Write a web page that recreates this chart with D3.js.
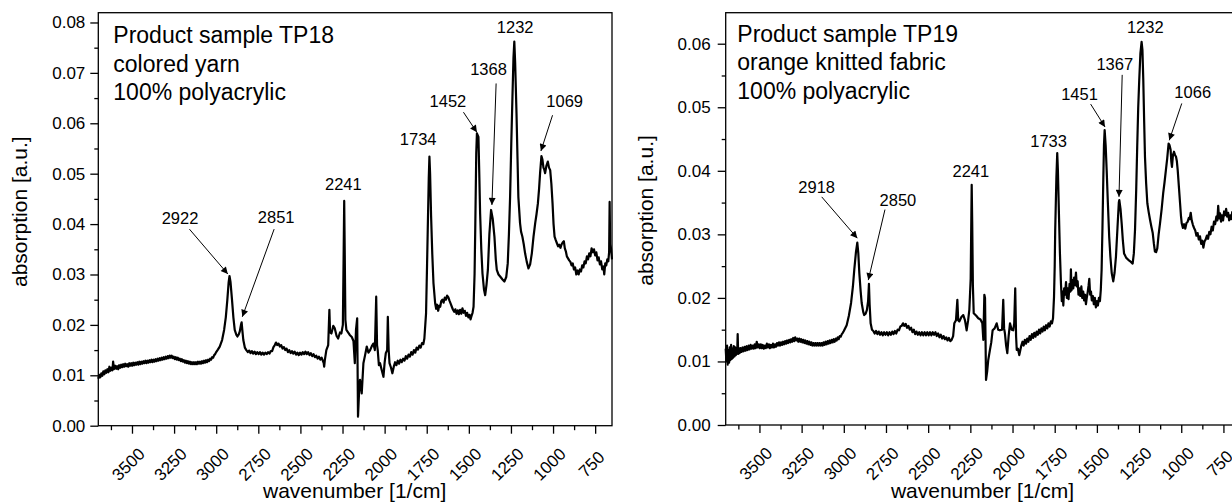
<!DOCTYPE html>
<html><head><meta charset="utf-8">
<script src="https://cdn.jsdelivr.net/npm/d3@7"></script>
<style>html,body{margin:0;padding:0;background:#fff;overflow:hidden;} svg{display:block;}</style>
</head><body><svg id="c" width="1232" height="503"></svg>
<script>
// ---------- DATA ----------
const xTickValues = [3500,3250,3000,2750,2500,2250,2000,1750,1500,1250,1000,750];
const xMinorTickValues = [3625,3375,3125,2875,2625,2375,2125,1875,1625,1375,1125,875];
const tp18YTicks = [0,0.01,0.02,0.03,0.04,0.05,0.06,0.07,0.08];
const tp19YTicks = [0,0.01,0.02,0.03,0.04,0.05,0.06];
const tp18Title = ["Product sample TP18","colored yarn","100% polyacrylic"];
const tp19Title = ["Product sample TP19","orange knitted fabric","100% polyacrylic"];
const xAxisTitle = "wavenumber [1/cm]";
const yAxisTitle = "absorption [a.u.]";
const tp18PeakLabels = ["2922","2851","2241","1734","1452","1368","1232","1069"];
const tp19PeakLabels = ["2918","2850","2241","1733","1451","1367","1232","1066"];

// [wavenumber, absorption]
const tp18Spectrum = [[3700,0.0093],[3694,0.0101],[3688,0.0096],[3682,0.0104],[3676,0.0099],[3670,0.0108],[3664,0.0102],[3658,0.0110],[3652,0.0105],[3646,0.0112],[3640,0.0106],[3634,0.0117],[3628,0.0109],[3622,0.0115],[3616,0.0110],[3612,0.0127],[3607,0.0112],[3600,0.0119],[3594,0.0113],[3588,0.0118],[3582,0.0112],[3576,0.0120],[3570,0.0115],[3564,0.0121],[3558,0.0116],[3552,0.0122],[3546,0.0117],[3540,0.0123],[3534,0.0118],[3528,0.0122],[3522,0.0117],[3516,0.0124],[3510,0.0119],[3504,0.0124],[3498,0.0119],[3492,0.0125],[3486,0.0120],[3480,0.0125],[3474,0.0121],[3468,0.0126],[3462,0.0121],[3456,0.0127],[3450,0.0122],[3444,0.0127],[3438,0.0123],[3432,0.0128],[3426,0.0124],[3420,0.0129],[3414,0.0124],[3408,0.0129],[3402,0.0125],[3396,0.0130],[3390,0.0126],[3384,0.0131],[3378,0.0126],[3372,0.0131],[3366,0.0127],[3360,0.0132],[3354,0.0128],[3348,0.0133],[3342,0.0129],[3336,0.0134],[3330,0.0130],[3324,0.0135],[3318,0.0131],[3312,0.0136],[3306,0.0132],[3300,0.0137],[3294,0.0133],[3288,0.0138],[3282,0.0134],[3276,0.0139],[3270,0.0135],[3264,0.0139],[3258,0.0134],[3252,0.0137],[3246,0.0132],[3240,0.0136],[3234,0.0131],[3228,0.0135],[3222,0.0130],[3216,0.0133],[3210,0.0128],[3204,0.0132],[3198,0.0127],[3192,0.0130],[3186,0.0125],[3180,0.0129],[3174,0.0124],[3168,0.0128],[3162,0.0123],[3156,0.0127],[3150,0.0122],[3144,0.0126],[3138,0.0122],[3132,0.0126],[3126,0.0122],[3120,0.0126],[3114,0.0122],[3108,0.0127],[3102,0.0123],[3096,0.0127],[3090,0.0123],[3084,0.0128],[3078,0.0124],[3072,0.0129],[3066,0.0125],[3060,0.0130],[3054,0.0126],[3048,0.0131],[3042,0.0128],[3036,0.0133],[3030,0.0131],[3024,0.0136],[3018,0.0135],[3012,0.0140],[3006,0.0142],[3000,0.0146],[2990,0.0151],[2979,0.0157],[2965,0.0170],[2953,0.0190],[2943,0.0215],[2934,0.0249],[2926,0.0285],[2921,0.0297],[2915,0.0285],[2906,0.0249],[2898,0.0215],[2890,0.0190],[2880,0.0180],[2874,0.0177],[2866,0.0181],[2860,0.0187],[2853,0.0200],[2849,0.0205],[2845,0.0190],[2839,0.0170],[2830,0.0155],[2821,0.0150],[2812,0.0146],[2804,0.0149],[2796,0.0144],[2788,0.0148],[2780,0.0143],[2772,0.0147],[2764,0.0142],[2756,0.0146],[2748,0.0142],[2740,0.0146],[2732,0.0141],[2724,0.0145],[2716,0.0141],[2708,0.0145],[2700,0.0142],[2692,0.0146],[2684,0.0143],[2676,0.0148],[2668,0.0148],[2660,0.0156],[2652,0.0160],[2645,0.0165],[2638,0.0160],[2630,0.0163],[2622,0.0157],[2614,0.0160],[2606,0.0153],[2598,0.0156],[2590,0.0150],[2582,0.0153],[2574,0.0146],[2566,0.0150],[2558,0.0144],[2550,0.0148],[2542,0.0143],[2534,0.0147],[2526,0.0141],[2518,0.0145],[2510,0.0140],[2502,0.0145],[2494,0.0141],[2486,0.0146],[2478,0.0142],[2470,0.0147],[2462,0.0142],[2454,0.0146],[2446,0.0140],[2438,0.0144],[2430,0.0138],[2422,0.0142],[2414,0.0136],[2406,0.0139],[2398,0.0133],[2390,0.0137],[2382,0.0131],[2374,0.0135],[2366,0.0128],[2362,0.0125],[2359,0.0117],[2355,0.0130],[2346,0.0150],[2335,0.0160],[2328,0.0230],[2324,0.0185],[2316,0.0183],[2305,0.0198],[2296,0.0193],[2285,0.0178],[2276,0.0173],[2265,0.0185],[2257,0.0183],[2248,0.0200],[2243,0.0350],[2240,0.0446],[2237,0.0350],[2233,0.0210],[2227,0.0190],[2217,0.0185],[2207,0.0180],[2195,0.0176],[2185,0.0168],[2177,0.0124],[2170,0.0190],[2163,0.0213],[2158,0.0018],[2150,0.0080],[2146,0.0091],[2136,0.0064],[2126,0.0124],[2116,0.0140],[2106,0.0157],[2096,0.0145],[2086,0.0150],[2076,0.0158],[2067,0.0163],[2058,0.0150],[2050,0.0256],[2045,0.0160],[2041,0.0150],[2034,0.0120],[2027,0.0124],[2017,0.0110],[2007,0.0097],[2000,0.0125],[1993,0.0144],[1985,0.0150],[1981,0.0216],[1976,0.0150],[1971,0.0124],[1962,0.0115],[1954,0.0104],[1945,0.0118],[1938,0.0126],[1930,0.0120],[1922,0.0129],[1914,0.0123],[1906,0.0131],[1898,0.0126],[1890,0.0133],[1882,0.0129],[1874,0.0138],[1866,0.0133],[1858,0.0141],[1850,0.0137],[1842,0.0146],[1834,0.0141],[1826,0.0150],[1818,0.0145],[1810,0.0155],[1802,0.0151],[1794,0.0159],[1786,0.0155],[1778,0.0164],[1770,0.0162],[1764,0.0173],[1754,0.0223],[1748,0.0320],[1744,0.0388],[1738,0.0490],[1734,0.0534],[1730,0.0500],[1724,0.0415],[1717,0.0340],[1710,0.0283],[1700,0.0243],[1694,0.0232],[1688,0.0240],[1682,0.0228],[1676,0.0238],[1670,0.0236],[1664,0.0247],[1657,0.0250],[1650,0.0244],[1643,0.0254],[1636,0.0250],[1629,0.0258],[1622,0.0255],[1615,0.0248],[1608,0.0242],[1601,0.0236],[1594,0.0230],[1587,0.0226],[1580,0.0231],[1573,0.0222],[1566,0.0229],[1559,0.0221],[1552,0.0230],[1545,0.0222],[1538,0.0233],[1531,0.0224],[1524,0.0228],[1517,0.0218],[1510,0.0224],[1503,0.0215],[1496,0.0220],[1490,0.0211],[1484,0.0218],[1478,0.0224],[1472,0.0236],[1466,0.0300],[1462,0.0388],[1456,0.0540],[1452,0.0580],[1443,0.0573],[1438,0.0500],[1433,0.0421],[1426,0.0350],[1419,0.0302],[1410,0.0270],[1403,0.0259],[1395,0.0280],[1387,0.0309],[1378,0.0380],[1368,0.0428],[1358,0.0410],[1348,0.0375],[1340,0.0330],[1334,0.0309],[1324,0.0300],[1314,0.0296],[1300,0.0290],[1289,0.0286],[1278,0.0295],[1269,0.0322],[1262,0.0380],[1255,0.0454],[1248,0.0560],[1241,0.0653],[1235,0.0730],[1230,0.0762],[1225,0.0720],[1217,0.0620],[1211,0.0530],[1206,0.0454],[1196,0.0402],[1190,0.0385],[1182,0.0375],[1174,0.0360],[1166,0.0342],[1156,0.0325],[1146,0.0312],[1136,0.0320],[1126,0.0342],[1116,0.0375],[1106,0.0402],[1098,0.0420],[1090,0.0441],[1083,0.0470],[1077,0.0501],[1069,0.0535],[1063,0.0528],[1057,0.0512],[1052,0.0508],[1047,0.0501],[1040,0.0515],[1031,0.0524],[1024,0.0512],[1017,0.0507],[1010,0.0480],[1003,0.0441],[997,0.0400],[991,0.0375],[984,0.0368],[977,0.0362],[970,0.0356],[963,0.0359],[956,0.0353],[949,0.0360],[942,0.0364],[936,0.0366],[930,0.0352],[924,0.0346],[918,0.0336],[911,0.0332],[904,0.0328],[897,0.0325],[890,0.0318],[883,0.0322],[876,0.0310],[869,0.0314],[862,0.0300],[855,0.0308],[848,0.0300],[841,0.0310],[834,0.0306],[827,0.0318],[820,0.0314],[813,0.0326],[806,0.0322],[799,0.0336],[792,0.0330],[785,0.0342],[778,0.0336],[771,0.0352],[764,0.0344],[757,0.0350],[750,0.0338],[743,0.0344],[736,0.0328],[729,0.0334],[722,0.0320],[715,0.0326],[708,0.0310],[701,0.0316],[696,0.0300],[690,0.0322],[684,0.0318],[678,0.0330],[672,0.0326],[667,0.0345],[664,0.0444],[661,0.0360],[656,0.0352],[650,0.0330]];

const tp19Spectrum = [[3700,0.0120],[3696,0.0100],[3692,0.0125],[3688,0.0095],[3684,0.0118],[3680,0.0098],[3676,0.0122],[3672,0.0102],[3668,0.0126],[3664,0.0104],[3660,0.0120],[3656,0.0106],[3652,0.0124],[3648,0.0108],[3644,0.0122],[3640,0.0110],[3636,0.0120],[3632,0.0112],[3629,0.0143],[3626,0.0112],[3622,0.0121],[3618,0.0113],[3612,0.0121],[3606,0.0115],[3600,0.0122],[3594,0.0116],[3588,0.0123],[3582,0.0117],[3576,0.0124],[3570,0.0118],[3564,0.0125],[3558,0.0119],[3552,0.0126],[3546,0.0120],[3540,0.0125],[3534,0.0120],[3528,0.0127],[3522,0.0121],[3516,0.0131],[3510,0.0122],[3504,0.0127],[3498,0.0121],[3492,0.0127],[3486,0.0121],[3480,0.0126],[3474,0.0120],[3468,0.0125],[3462,0.0121],[3456,0.0128],[3450,0.0122],[3444,0.0127],[3438,0.0121],[3432,0.0126],[3426,0.0122],[3420,0.0128],[3414,0.0122],[3408,0.0127],[3402,0.0123],[3396,0.0129],[3390,0.0125],[3384,0.0130],[3378,0.0125],[3372,0.0130],[3366,0.0126],[3360,0.0131],[3354,0.0127],[3348,0.0132],[3342,0.0128],[3336,0.0133],[3330,0.0129],[3324,0.0134],[3318,0.0130],[3312,0.0135],[3306,0.0131],[3300,0.0137],[3294,0.0132],[3288,0.0138],[3282,0.0133],[3276,0.0136],[3270,0.0131],[3264,0.0136],[3258,0.0131],[3252,0.0135],[3246,0.0130],[3240,0.0134],[3234,0.0129],[3228,0.0133],[3222,0.0128],[3216,0.0132],[3210,0.0127],[3204,0.0131],[3198,0.0126],[3192,0.0130],[3186,0.0125],[3180,0.0129],[3174,0.0125],[3168,0.0129],[3162,0.0125],[3156,0.0129],[3150,0.0125],[3144,0.0129],[3138,0.0125],[3132,0.0129],[3126,0.0125],[3120,0.0130],[3114,0.0126],[3108,0.0131],[3102,0.0127],[3096,0.0132],[3090,0.0128],[3084,0.0133],[3078,0.0129],[3072,0.0134],[3066,0.0130],[3060,0.0135],[3054,0.0131],[3048,0.0136],[3042,0.0133],[3036,0.0138],[3030,0.0135],[3024,0.0140],[3018,0.0139],[3012,0.0143],[3006,0.0145],[3000,0.0148],[2983,0.0157],[2970,0.0172],[2957,0.0192],[2946,0.0218],[2938,0.0244],[2928,0.0272],[2920,0.0287],[2914,0.0270],[2908,0.0239],[2900,0.0210],[2894,0.0192],[2885,0.0178],[2879,0.0173],[2871,0.0175],[2863,0.0181],[2856,0.0195],[2851,0.0222],[2847,0.0190],[2841,0.0160],[2833,0.0150],[2825,0.0148],[2817,0.0144],[2809,0.0148],[2801,0.0143],[2793,0.0147],[2785,0.0142],[2777,0.0146],[2769,0.0141],[2761,0.0146],[2753,0.0142],[2745,0.0146],[2737,0.0141],[2729,0.0146],[2721,0.0142],[2713,0.0147],[2705,0.0143],[2697,0.0148],[2689,0.0144],[2681,0.0150],[2673,0.0149],[2665,0.0155],[2657,0.0156],[2649,0.0160],[2641,0.0156],[2633,0.0159],[2625,0.0153],[2617,0.0156],[2609,0.0150],[2601,0.0153],[2593,0.0146],[2585,0.0150],[2577,0.0143],[2569,0.0147],[2561,0.0142],[2553,0.0146],[2545,0.0141],[2537,0.0146],[2529,0.0141],[2521,0.0146],[2513,0.0141],[2505,0.0146],[2497,0.0141],[2489,0.0146],[2481,0.0141],[2473,0.0146],[2465,0.0142],[2457,0.0146],[2449,0.0140],[2441,0.0144],[2433,0.0138],[2425,0.0142],[2417,0.0136],[2409,0.0140],[2401,0.0135],[2393,0.0138],[2385,0.0133],[2377,0.0137],[2369,0.0132],[2361,0.0134],[2352,0.0140],[2345,0.0160],[2335,0.0165],[2327,0.0197],[2322,0.0165],[2315,0.0163],[2303,0.0170],[2292,0.0173],[2282,0.0165],[2272,0.0149],[2263,0.0165],[2256,0.0181],[2248,0.0230],[2244,0.0330],[2242,0.0378],[2239,0.0320],[2235,0.0220],[2230,0.0176],[2215,0.0172],[2203,0.0168],[2190,0.0166],[2179,0.0160],[2173,0.0134],[2167,0.0205],[2163,0.0200],[2157,0.0071],[2150,0.0085],[2144,0.0102],[2134,0.0118],[2126,0.0130],[2118,0.0149],[2106,0.0152],[2094,0.0160],[2085,0.0150],[2075,0.0149],[2062,0.0150],[2055,0.0197],[2050,0.0152],[2045,0.0144],[2038,0.0125],[2031,0.0113],[2023,0.0140],[2015,0.0160],[2005,0.0150],[1996,0.0149],[1990,0.0160],[1984,0.0215],[1979,0.0140],[1975,0.0118],[1968,0.0120],[1960,0.0110],[1948,0.0125],[1941,0.0131],[1934,0.0125],[1927,0.0134],[1920,0.0128],[1913,0.0136],[1906,0.0131],[1899,0.0140],[1892,0.0134],[1885,0.0143],[1878,0.0137],[1871,0.0145],[1864,0.0139],[1857,0.0147],[1850,0.0142],[1843,0.0150],[1836,0.0144],[1829,0.0152],[1822,0.0147],[1815,0.0155],[1808,0.0149],[1801,0.0157],[1794,0.0152],[1787,0.0160],[1780,0.0155],[1773,0.0163],[1766,0.0160],[1760,0.0168],[1754,0.0202],[1750,0.0250],[1747,0.0307],[1740,0.0390],[1735,0.0428],[1731,0.0400],[1725,0.0333],[1719,0.0270],[1713,0.0223],[1708,0.0195],[1703,0.0210],[1699,0.0188],[1694,0.0215],[1689,0.0205],[1683,0.0225],[1678,0.0200],[1673,0.0215],[1668,0.0198],[1662,0.0222],[1657,0.0210],[1654,0.0245],[1650,0.0212],[1645,0.0228],[1640,0.0215],[1635,0.0232],[1630,0.0220],[1624,0.0240],[1619,0.0218],[1614,0.0226],[1609,0.0205],[1604,0.0215],[1598,0.0203],[1592,0.0218],[1587,0.0200],[1581,0.0210],[1576,0.0196],[1570,0.0205],[1565,0.0190],[1560,0.0200],[1555,0.0208],[1549,0.0220],[1545,0.0230],[1540,0.0205],[1535,0.0210],[1530,0.0196],[1524,0.0203],[1518,0.0190],[1512,0.0200],[1506,0.0185],[1500,0.0195],[1494,0.0188],[1488,0.0200],[1482,0.0195],[1477,0.0212],[1472,0.0244],[1467,0.0310],[1462,0.0386],[1458,0.0440],[1454,0.0464],[1448,0.0440],[1442,0.0401],[1435,0.0350],[1427,0.0296],[1420,0.0265],[1412,0.0239],[1403,0.0226],[1395,0.0240],[1387,0.0265],[1378,0.0310],[1370,0.0350],[1367,0.0354],[1360,0.0340],[1353,0.0317],[1346,0.0290],[1339,0.0270],[1326,0.0263],[1314,0.0260],[1300,0.0257],[1288,0.0254],[1281,0.0270],[1274,0.0307],[1267,0.0370],[1261,0.0438],[1255,0.0500],[1249,0.0543],[1242,0.0585],[1235,0.0603],[1230,0.0590],[1225,0.0543],[1220,0.0480],[1215,0.0422],[1208,0.0380],[1201,0.0349],[1193,0.0335],[1185,0.0323],[1177,0.0312],[1169,0.0302],[1162,0.0285],[1156,0.0273],[1149,0.0272],[1142,0.0278],[1134,0.0300],[1126,0.0317],[1116,0.0340],[1107,0.0365],[1099,0.0382],[1091,0.0401],[1083,0.0420],[1075,0.0443],[1069,0.0440],[1063,0.0433],[1059,0.0415],[1055,0.0406],[1049,0.0425],[1043,0.0430],[1037,0.0425],[1031,0.0422],[1026,0.0415],[1021,0.0401],[1014,0.0375],[1007,0.0349],[1002,0.0330],[997,0.0317],[990,0.0310],[983,0.0316],[976,0.0309],[969,0.0318],[962,0.0320],[955,0.0326],[950,0.0324],[944,0.0334],[938,0.0322],[931,0.0315],[924,0.0310],[917,0.0306],[910,0.0298],[903,0.0302],[896,0.0292],[889,0.0297],[882,0.0285],[875,0.0290],[869,0.0279],[862,0.0289],[855,0.0292],[848,0.0298],[841,0.0293],[834,0.0304],[827,0.0300],[820,0.0312],[813,0.0306],[806,0.0320],[799,0.0316],[792,0.0328],[786,0.0322],[781,0.0345],[776,0.0325],[770,0.0333],[764,0.0320],[758,0.0330],[752,0.0322],[746,0.0336],[740,0.0330],[734,0.0340],[728,0.0328],[722,0.0334],[716,0.0322],[710,0.0330],[704,0.0324],[698,0.0335],[690,0.0328],[680,0.0334],[670,0.0327],[660,0.0333],[650,0.0330]];

// ---------- LAYOUT ----------
const FONT = "'Liberation Sans', Arial, Helvetica, sans-serif";
const svg = d3.select("#c");
svg.append("defs").append("marker").attr("id","ah")
  .attr("markerUnits","userSpaceOnUse").attr("viewBox","0 0 10 10")
  .attr("refX",10).attr("refY",5).attr("markerWidth",9).attr("markerHeight",7)
  .attr("orient","auto")
  .append("path").attr("d","M0,0L10,5L0,10z").attr("fill","#000");

const panels = [
  { data: tp18Spectrum, yTicks: tp18YTicks, yMax: 0.08194, title: tp18Title, labels: tp18PeakLabels,
    left: 98.3, right: 612, top: 12.7, bottom: 425.7, tickPad: 5,
    titleX: 113.3, titleY: 43, yTitleX: 26.7, yTitleY: 211.7,
    ann: [
      {p:[3215,0.0400], a:[3159,0.0390,2931,0.0301]},
      {p:[2644,0.0403], a:[2656,0.0390,2845,0.0216]},
      {p:[2245,0.0468]},
      {p:[1801,0.0556]},
      {p:[1624,0.0632], a:[1532,0.0622,1452,0.0582]},
      {p:[1383,0.0696], a:[1338,0.0679,1363,0.0438]},
      {p:[1225,0.0779]},
      {p:[931,0.0633], a:[1003,0.0616,1072,0.0545]}
    ]},
  { data: tp19Spectrum, yTicks: tp19YTicks, yMax: 0.06488, title: tp19Title, labels: tp19PeakLabels,
    left: 725.7, right: 1240.3, top: 12.7, bottom: 425, tickPad: 7,
    titleX: 737.3, titleY: 41.5, yTitleX: 653.3, yTitleY: 210.5,
    ann: [
      {p:[3161,0.03655], a:[3131,0.0359,2920,0.0294]},
      {p:[2679,0.03446], a:[2756,0.0339,2855,0.0228]},
      {p:[2247,0.0390]},
      {p:[1786,0.0438]},
      {p:[1603,0.0511], a:[1537,0.0505,1452,0.0469]},
      {p:[1394,0.0559], a:[1350,0.0551,1369,0.0359]},
      {p:[1213,0.0617]},
      {p:[932,0.0515], a:[997,0.0506,1071,0.0448]}
    ]}
];

panels.forEach(cfg => {
  const x = d3.scaleLinear().domain([3700,650]).range([cfg.left, cfg.right]);
  const y = d3.scaleLinear().domain([0, cfg.yMax]).range([cfg.bottom, cfg.top]);
  const g = svg.append("g");

  g.append("path").datum(cfg.data)
    .attr("d", d3.line().x(d=>x(d[0])).y(d=>y(d[1])))
    .attr("fill","none").attr("stroke","#000").attr("stroke-width",2.2)
    .attr("stroke-linejoin","round");

  g.append("rect").attr("x",cfg.left).attr("y",cfg.top)
    .attr("width",cfg.right-cfg.left).attr("height",cfg.bottom-cfg.top)
    .attr("fill","none").attr("stroke","#000").attr("stroke-width",1.3);

  const ya = g.append("g").attr("transform",`translate(${cfg.left},0)`)
    .call(d3.axisLeft(y).tickValues(cfg.yTicks).tickSize(8).tickPadding(cfg.tickPad).tickFormat(d3.format(".2f")));
  ya.select(".domain").remove();
  ya.selectAll("line").attr("stroke","#000").attr("stroke-width",1.3);
  ya.selectAll("text").attr("font-family",FONT).attr("font-size",17).attr("fill","#000");
  const minorY = d3.range(0.005, cfg.yMax, 0.01);
  const ym = g.append("g").attr("transform",`translate(${cfg.left},0)`)
    .call(d3.axisLeft(y).tickValues(minorY).tickSize(4).tickFormat(""));
  ym.select(".domain").remove();
  ym.selectAll("line").attr("stroke","#000").attr("stroke-width",1.3);

  const xa = g.append("g").attr("transform",`translate(0,${cfg.bottom})`)
    .call(d3.axisBottom(x).tickValues(xTickValues).tickSize(8).tickFormat(d3.format("d")));
  xa.select(".domain").remove();
  xa.selectAll("line").attr("stroke","#000").attr("stroke-width",1.3);
  xa.selectAll("text").attr("font-family",FONT).attr("font-size",17).attr("fill","#000")
    .attr("y",null).attr("dy",null).attr("text-anchor","middle")
    .attr("transform","translate(0,42.7) rotate(-45)");
  const xm = g.append("g").attr("transform",`translate(0,${cfg.bottom})`)
    .call(d3.axisBottom(x).tickValues(xMinorTickValues).tickSize(4.5).tickFormat(""));
  xm.select(".domain").remove();
  xm.selectAll("line").attr("stroke","#000").attr("stroke-width",1.3);

  g.append("text").attr("x",(cfg.left+cfg.right)/2 - 0.5).attr("y",498.3)
    .attr("text-anchor","middle").attr("font-family",FONT).attr("font-size",21).text(xAxisTitle);
  g.append("text").attr("transform",`translate(${cfg.yTitleX},${cfg.yTitleY}) rotate(-90)`)
    .attr("text-anchor","middle").attr("font-family",FONT).attr("font-size",21).text(yAxisTitle);

  cfg.title.forEach((t,i) => {
    g.append("text").attr("x",cfg.titleX).attr("y",cfg.titleY + i*28.5)
      .attr("font-family",FONT).attr("font-size",23).text(t);
  });

  cfg.ann.forEach((a,i) => {
    g.append("text").attr("x",x(a.p[0])).attr("y",y(a.p[1]))
      .attr("text-anchor","middle").attr("font-family",FONT).attr("font-size",16.5)
      .text(cfg.labels[i]);
    if (a.a) {
      g.append("line").attr("x1",x(a.a[0])).attr("y1",y(a.a[1]))
        .attr("x2",x(a.a[2])).attr("y2",y(a.a[3]))
        .attr("stroke","#000").attr("stroke-width",1).attr("marker-end","url(#ah)");
    }
  });
});
</script></body></html>
